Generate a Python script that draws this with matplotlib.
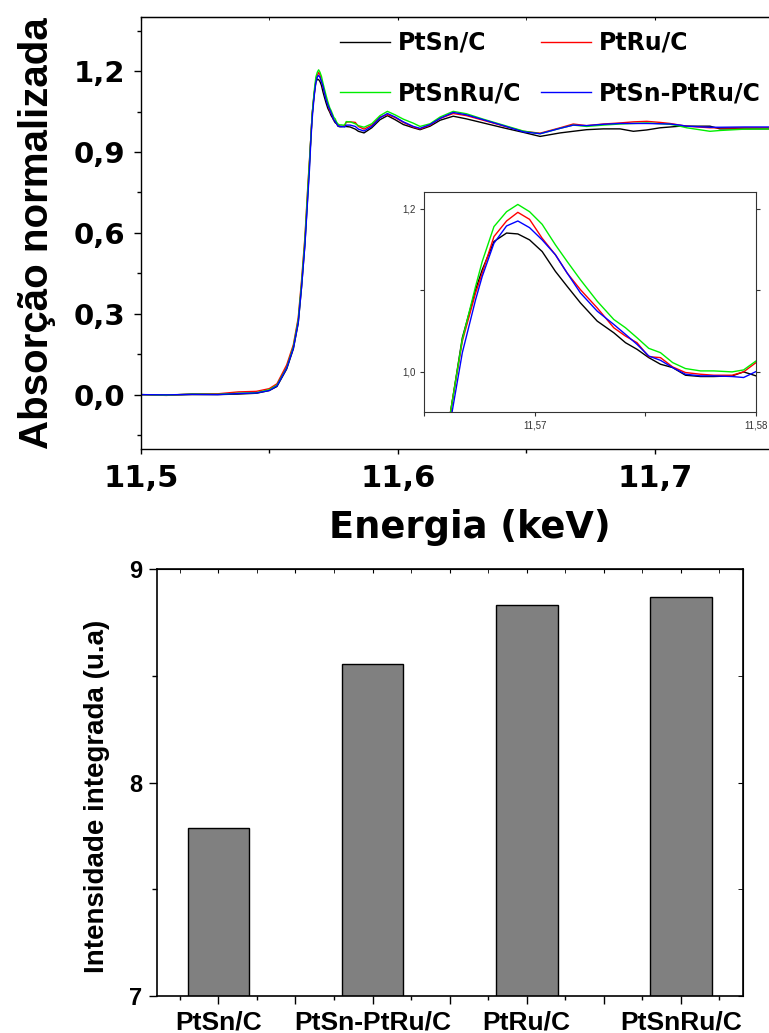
import matplotlib
matplotlib.use("Agg")
import matplotlib.pyplot as plt
from matplotlib.ticker import FuncFormatter
from matplotlib.lines import Line2D

# ---------------- data ----------------
energy = [
    11.500, 11.510, 11.520, 11.530, 11.538, 11.545, 11.550, 11.553, 11.5568, 11.5594,
    11.5613, 11.5626, 11.5639, 11.5650, 11.5657,
    11.56619, 11.56672, 11.56732, 11.56762, 11.56815, 11.56872, 11.56923, 11.56976, 11.57033, 11.57093,
    11.57146, 11.57206, 11.57282, 11.57357, 11.57410, 11.57462, 11.57515, 11.57568, 11.57623, 11.57681,
    11.57749, 11.57809, 11.57892, 11.57944, 11.58000,
    11.5815, 11.5835, 11.5847, 11.5869, 11.5899, 11.5931, 11.5960, 11.5990, 11.6022, 11.6061,
    11.6087, 11.6126, 11.6165, 11.6216, 11.6268, 11.6333, 11.6411, 11.6489, 11.6554, 11.6632,
    11.6683, 11.6735, 11.6800, 11.6865, 11.6917, 11.6969, 11.7021, 11.7060, 11.7098, 11.7125,
    11.7215, 11.7254, 11.7350, 11.7460,
]

ptsn = [
    0.000, -0.002, 0.000, 0.000, 0.002, 0.005, 0.015, 0.030, 0.095, 0.170,
    0.265, 0.400, 0.560, 0.740, 0.860,
    0.951, 1.0415, 1.1005, 1.125, 1.1596, 1.1700, 1.1689, 1.1616, 1.1473, 1.1229,
    1.1046, 1.0843, 1.0619, 1.0476, 1.0354, 1.0273, 1.0171, 1.0090, 1.0049, 0.9955,
    0.9939, 0.9939, 0.9947, 0.9996, 0.9947,
    0.993, 0.985, 0.977, 0.971, 0.990, 1.020, 1.035, 1.020, 1.002, 0.990,
    0.983, 0.996, 1.018, 1.033, 1.023, 1.008, 0.990, 0.973, 0.958, 0.971,
    0.977, 0.983, 0.986, 0.986, 0.977, 0.982, 0.990, 0.993, 0.996, 0.996,
    0.996, 0.986, 0.986, 0.986,
]

ptru = [
    0.000, -0.003, 0.003, 0.003, 0.010, 0.012, 0.022, 0.040, 0.110, 0.185,
    0.285, 0.425, 0.585, 0.770, 0.875,
    0.951, 1.0374, 1.0965, 1.1209, 1.1657, 1.1848, 1.1954, 1.1868, 1.1636, 1.1433,
    1.1209, 1.1005, 1.0781, 1.0537, 1.0435, 1.0354, 1.0183, 1.0171, 1.0057, 0.9988,
    0.9967, 0.9955, 0.9955, 0.9996, 1.0110,
    1.012, 1.010, 0.995, 0.985, 1.000, 1.030, 1.039, 1.028, 1.010, 0.993,
    0.986, 1.000, 1.025, 1.043, 1.035, 1.018, 0.997, 0.977, 0.970, 0.990,
    1.004, 0.998, 1.004, 1.008, 1.012, 1.014, 1.010, 1.006, 1.000, 0.996,
    0.990, 0.990, 0.990, 0.990,
]

ptsnru = [
    0.000, -0.002, 0.002, 0.001, 0.005, 0.007, 0.018, 0.035, 0.100, 0.178,
    0.277, 0.414, 0.575, 0.760, 0.870,
    0.951, 1.0395, 1.1046, 1.1351, 1.1779, 1.1962, 1.2051, 1.1962, 1.1807, 1.1555,
    1.1351, 1.1127, 1.0863, 1.0639, 1.0537, 1.0415, 1.0285, 1.0232, 1.0110, 1.0037,
    1.0008, 1.0008, 0.9996, 1.0020, 1.0130,
    1.012, 1.005, 0.998, 0.992, 1.005, 1.035, 1.051, 1.038, 1.022, 1.007,
    0.995, 1.005, 1.030, 1.051, 1.042, 1.022, 1.000, 0.978, 0.968, 0.988,
    1.000, 0.995, 1.000, 1.004, 1.006, 1.008, 1.005, 1.003, 0.996, 0.990,
    0.977, 0.980, 0.985, 0.986,
]

ptsn_ptru = [
    0.000, -0.001, 0.001, 0.000, 0.004, 0.006, 0.015, 0.032, 0.098, 0.172,
    0.268, 0.400, 0.555, 0.730, 0.840,
    0.940, 1.0232, 1.0883, 1.1168, 1.1575, 1.1787, 1.1848, 1.1766, 1.1616, 1.1433,
    1.1209, 1.0965, 1.0741, 1.0578, 1.0456, 1.0334, 1.0191, 1.0138, 1.0049, 0.9967,
    0.9947, 0.9947, 0.9939, 0.9927, 1.0000,
    1.000, 0.995, 0.985, 0.978, 0.995, 1.027, 1.043, 1.030, 1.012, 0.995,
    0.988, 1.002, 1.025, 1.047, 1.038, 1.020, 0.998, 0.975, 0.968, 0.988,
    1.000, 0.998, 1.003, 1.006, 1.006, 1.006, 1.005, 1.004, 1.000, 0.996,
    0.992, 0.992, 0.993, 0.993,
]

series_labels = ["PtSn/C", "PtRu/C", "PtSnRu/C", "PtSn-PtRu/C"]
series_colors = ["#000000", "#ff0000", "#00ee00", "#0000ff"]

bar_categories = ["PtSn/C", "PtSn-PtRu/C", "PtRu/C", "PtSnRu/C"]
bar_values = [7.786, 8.556, 8.831, 8.870]

# ---------------- figure ----------------
W, H = 769, 1033
fig = plt.figure(figsize=(W / 100, H / 100), dpi=100)


def fx(px):
    return px / W


def fy(py):
    return 1 - py / H


def comma(fmt):
    return FuncFormatter(lambda v, p: format(v, fmt).replace(".", ","))


TOPFONT = "DejaVu Sans"
BOTFONT = "Liberation Sans"
series = [ptsn, ptru, ptsnru, ptsn_ptru]

# ---- top panel ----
L, R, T, B = 140.7, 808.9, 17.3, 448.5
ax1 = fig.add_axes([fx(L), fy(B), (R - L) / W, (B - T) / H])
lines = []
for vals, lab, col in zip(series, series_labels, series_colors):
    ln, = ax1.plot(energy, vals, color=col, lw=1.0, label=lab)
    lines.append(ln)
ax1.set_xlim(11.5, 11.76)
ax1.set_ylim(-0.2, 1.4)
ax1.set_xticks([11.5, 11.6, 11.7])
ax1.set_xticks([11.55, 11.65, 11.75], minor=True)
ax1.set_yticks([0.0, 0.3, 0.6, 0.9, 1.2])
ax1.set_yticks([-0.15, 0.15, 0.45, 0.75, 1.05, 1.35], minor=True)
ax1.xaxis.set_major_formatter(comma(".1f"))
ax1.yaxis.set_major_formatter(comma(".1f"))
ax1.tick_params(axis="y", which="major", direction="out", length=5.3, width=1, pad=6)
ax1.tick_params(axis="y", which="minor", direction="out", length=3, width=1)
ax1.tick_params(axis="x", which="major", direction="out", length=3.5, width=1, pad=8)
ax1.tick_params(axis="x", which="minor", direction="out", length=3, width=1)
for lab in ax1.get_yticklabels():
    lab.set_fontfamily(TOPFONT); lab.set_fontweight("bold"); lab.set_fontsize(21)
for lab in ax1.get_xticklabels():
    lab.set_fontfamily(TOPFONT); lab.set_fontweight("bold"); lab.set_fontsize(22)
for sp in ax1.spines.values():
    sp.set_linewidth(1.0)
sx1 = ax1.secondary_xaxis("top")
sx1.set_xticks([11.5, 11.6, 11.7])
sx1.set_xticks([11.55, 11.65, 11.75], minor=True)
sx1.tick_params(which="both", direction="in", length=2.5, labeltop=False)

fig.text(fx(470), fy(538), "Energia (keV)", ha="center", va="baseline",
         fontfamily=TOPFONT, fontweight="bold", fontsize=26.5)
fig.text(fx(36.7), fy(233.5), "Absorção normalizada", rotation=90, ha="center", va="center",
         fontfamily=BOTFONT, fontweight="bold", fontsize=29)

order = [0, 2, 1, 3]
leg = ax1.legend([lines[i] for i in order], [series_labels[i] for i in order], ncol=2,
                 loc="upper left", bbox_to_anchor=(fx(340), fy(31)),
                 bbox_transform=fig.transFigure, frameon=False,
                 prop=dict(family=TOPFONT, weight="bold", size=17),
                 handlelength=2.1, handletextpad=0.34, columnspacing=0.86,
                 labelspacing=1.13, borderpad=0, borderaxespad=0)

# ---- inset ----
iL, iR, iT, iB = 424.3, 756.0, 192.3, 412.3
axi = fig.add_axes([fx(iL), fy(iB), (iR - iL) / W, (iB - iT) / H])
for vals, col in zip(series, series_colors):
    axi.plot(energy, vals, color=col, lw=1.0)
axi.set_xlim(11.565, 11.58)
axi.set_ylim(0.95, 1.22)
axi.set_xticks([11.57, 11.58])
axi.set_xticks([11.565, 11.575], minor=True)
axi.set_yticks([1.0, 1.2])
axi.set_yticks([1.1], minor=True)
axi.xaxis.set_major_formatter(comma(".2f"))
axi.yaxis.set_major_formatter(comma(".1f"))
axi.tick_params(which="both", direction="out", length=3, width=0.8, colors="#333333",
                labelsize=7, right=True, pad=3)
for lab in axi.get_xticklabels() + axi.get_yticklabels():
    lab.set_fontfamily(BOTFONT)
for sp in axi.spines.values():
    sp.set_linewidth(0.8)
    sp.set_color("#333333")

# ---- bottom panel ----
bL, bR, bT, bB = 156.7, 742.6, 569.3, 996.0
ax2 = fig.add_axes([fx(bL), fy(bB), (bR - bL) / W, (bB - bT) / H])
xpos = [i + 1 for i in range(len(bar_categories))]
ax2.bar(xpos, bar_values, width=0.4, color="#808080", edgecolor="black", linewidth=1.0)
ax2.set_xlim(0.6, 4.4)
ax2.set_ylim(7, 9)
major_x = [1, 1.5, 2, 2.5, 3, 3.5, 4]
minor_x = [0.75, 1.25, 1.75, 2.25, 2.75, 3.25, 3.75, 4.25]
ax2.set_xticks(major_x)
ax2.set_xticklabels([bar_categories[int(v) - 1] if float(v).is_integer() else "" for v in major_x])
ax2.set_xticks(minor_x, minor=True)
ax2.set_yticks([7, 8, 9])
ax2.set_yticks([7.5, 8.5], minor=True)
ax2.tick_params(axis="x", which="major", direction="out", length=5.5, width=1, pad=5)
ax2.tick_params(axis="x", which="minor", direction="out", length=3, width=1)
ax2.tick_params(axis="y", which="major", direction="out", length=6, width=1, pad=4.6)
ax2.tick_params(axis="y", which="minor", direction="out", length=3.5, width=1)
for lab in ax2.get_xticklabels():
    lab.set_fontfamily(BOTFONT); lab.set_fontweight("bold"); lab.set_fontsize(19)
for lab in ax2.get_yticklabels():
    lab.set_fontfamily(BOTFONT); lab.set_fontweight("bold"); lab.set_fontsize(17)
for sp in ax2.spines.values():
    sp.set_linewidth(1.2)
sx2 = ax2.secondary_xaxis("top")
sx2.set_xticks(major_x)
sx2.set_xticks(minor_x, minor=True)
sx2.tick_params(which="both", direction="in", length=3, labeltop=False)
sy2 = ax2.secondary_yaxis("right")
sy2.set_yticks([7, 8, 9])
sy2.set_yticks([7.5, 8.5], minor=True)
sy2.tick_params(which="both", direction="in", length=3.5, labelright=False)

fig.text(fx(97), fy(796.5), "Intensidade integrada (u.a)", rotation=90, ha="center", va="center",
         fontfamily=BOTFONT, fontweight="bold", fontsize=20)

fig.savefig("out.png", dpi=100)
